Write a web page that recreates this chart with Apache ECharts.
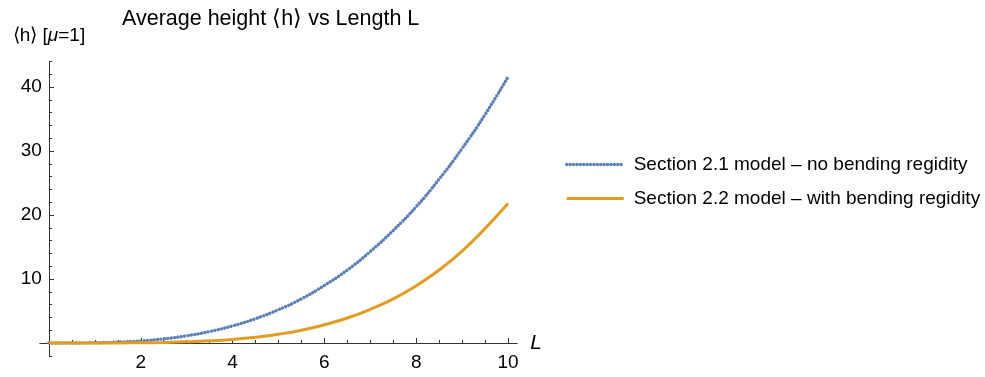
<!DOCTYPE html>
<html>
<head>
<meta charset="utf-8">
<style>
  html, body { margin: 0; padding: 0; background: #fff; }
  #chart { width: 985px; height: 377px; }
</style>
<script src="https://cdn.jsdelivr.net/npm/echarts@6/dist/echarts.min.js"></script>
</head>
<body>
<div id="chart"></div>
<script>
// Length L (sampled every 0.5)
const lengths = [0, 0.5, 1, 1.5, 2, 2.5, 3, 3.5, 4, 4.5, 5, 5.5, 6, 6.5, 7, 7.5, 8, 8.5, 9, 9.5, 10];
// Average height <h>, Section 2.1 model (no bending regidity)
const heightNoBending = [0, 0.005, 0.04, 0.14, 0.33, 0.65, 1.12, 1.79, 2.67, 3.8, 5.2, 6.9, 9.0, 11.4, 14.3, 17.6, 21.3, 25.6, 30.4, 35.7, 41.6];
// Average height <h>, Section 2.2 model (with bending regidity)
const heightBending = [0, 0.0001, 0.002, 0.011, 0.035, 0.085, 0.18, 0.33, 0.56, 0.9, 1.37, 2.0, 2.85, 3.9, 5.25, 6.9, 8.95, 11.4, 14.35, 17.9, 21.8];

const seriesNames = [
  'Section 2.1 model \u2013 no bending regidity',
  'Section 2.2 model \u2013 with bending regidity'
];

// Tick positions
const xMajorTicks = [2, 4, 6, 8, 10];
const xMinorTicks = [0.5, 1, 1.5, 2.5, 3, 3.5, 4.5, 5, 5.5, 6.5, 7, 7.5, 8.5, 9, 9.5];
const yMajorTicks = [10, 20, 30, 40];
const yMinorTicks = [-2, 2, 4, 6, 8, 12, 14, 16, 18, 22, 24, 26, 28, 32, 34, 36, 38, 42, 44];

const FONT = '"Liberation Sans", Arial, Helvetica, sans-serif';
const AXIS_COLOR = '#333';
const BLUE = '#5E81B5';
const ORANGE = '#E19C24';

const dottedStyle = { color: BLUE, width: 3.4, type: [0.1, 3.3], cap: 'round' };
const solidStyle = { color: ORANGE, width: 3 };

const pairs = (xs, ys) => xs.map((x, i) => [x, ys[i]]);

const xRange = { min: -0.2, max: 10.2 };
const yRange = { min: -2.05, max: 44.05 };

const chart = echarts.init(document.getElementById('chart'), null, { renderer: 'canvas' });

chart.setOption({
  animation: false,
  backgroundColor: '#fff',
  textStyle: { fontFamily: FONT },
  title: {
    text: 'Average height \u27E8h\u27E9 vs Length L',
    left: 117,
    top: 3,
    textStyle: { fontFamily: FONT, fontSize: 21.5, fontWeight: 'normal', color: '#000' }
  },
  legend: {
    orient: 'vertical',
    left: 560,
    top: 150,
    itemWidth: 57,
    itemHeight: 10,
    itemGap: 15,
    itemStyle: { opacity: 0 },
    textStyle: { fontFamily: FONT, fontSize: 19, color: '#000', padding: [0, 0, 0, 5] },
    data: [
      { name: seriesNames[0], lineStyle: dottedStyle },
      { name: seriesNames[1], lineStyle: solidStyle }
    ]
  },
  grid: {
    left: 39.8,
    right: 985 - 517.2,
    top: 61.1,
    bottom: 20.9,
    containLabel: false
  },
  xAxis: [
    {
      type: 'value',
      min: xRange.min,
      max: xRange.max,
      position: 'bottom',
      name: 'L',
      nameLocation: 'end',
      nameGap: 13,
      nameTextStyle: { fontFamily: FONT, fontSize: 21, fontStyle: 'italic', color: '#000', verticalAlign: 'middle' },
      axisLine: { show: true, onZero: true, lineStyle: { color: AXIS_COLOR, width: 1 } },
      axisTick: { show: true, inside: true, length: 5, customValues: xMajorTicks, lineStyle: { color: AXIS_COLOR, width: 1 } },
      axisLabel: { show: true, customValues: xMajorTicks, margin: -3, fontFamily: FONT, fontSize: 19, color: '#000' },
      splitLine: { show: false }
    },
    {
      type: 'value',
      min: xRange.min,
      max: xRange.max,
      position: 'bottom',
      axisLine: { show: false, onZero: true },
      axisTick: { show: true, inside: true, length: 3, customValues: xMinorTicks, lineStyle: { color: AXIS_COLOR, width: 1 } },
      axisLabel: { show: false },
      splitLine: { show: false }
    }
  ],
  yAxis: [
    {
      type: 'value',
      min: yRange.min,
      max: yRange.max,
      position: 'left',
      name: '{n|\u27E8h\u27E9 [}{i|\u03BC}{n|=1]}',
      nameLocation: 'end',
      nameGap: 16,
      nameTextStyle: {
        align: 'center',
        rich: {
          n: { fontFamily: FONT, fontSize: 19, color: '#000' },
          i: { fontFamily: FONT, fontSize: 19, fontStyle: 'italic', color: '#000' }
        }
      },
      axisLine: { show: true, onZero: true, lineStyle: { color: AXIS_COLOR, width: 1 } },
      axisTick: { show: true, inside: true, length: 5, customValues: yMajorTicks, lineStyle: { color: AXIS_COLOR, width: 1 } },
      axisLabel: { show: true, customValues: yMajorTicks, margin: -2, fontFamily: FONT, fontSize: 19, color: '#000' },
      splitLine: { show: false }
    },
    {
      type: 'value',
      min: yRange.min,
      max: yRange.max,
      position: 'left',
      axisLine: { show: false, onZero: true },
      axisTick: { show: true, inside: true, length: 3, customValues: yMinorTicks, lineStyle: { color: AXIS_COLOR, width: 1 } },
      axisLabel: { show: false },
      splitLine: { show: false }
    }
  ],
  series: [
    {
      name: seriesNames[0],
      type: 'line',
      xAxisIndex: 0,
      yAxisIndex: 0,
      data: pairs(lengths, heightNoBending),
      smooth: true,
      showSymbol: false,
      symbol: 'none',
      lineStyle: dottedStyle,
      itemStyle: { color: BLUE },
      z: 3
    },
    {
      name: seriesNames[1],
      type: 'line',
      xAxisIndex: 0,
      yAxisIndex: 0,
      data: pairs(lengths, heightBending),
      smooth: true,
      showSymbol: false,
      symbol: 'none',
      lineStyle: solidStyle,
      itemStyle: { color: ORANGE },
      z: 4
    }
  ]
});
</script>
</body>
</html>
